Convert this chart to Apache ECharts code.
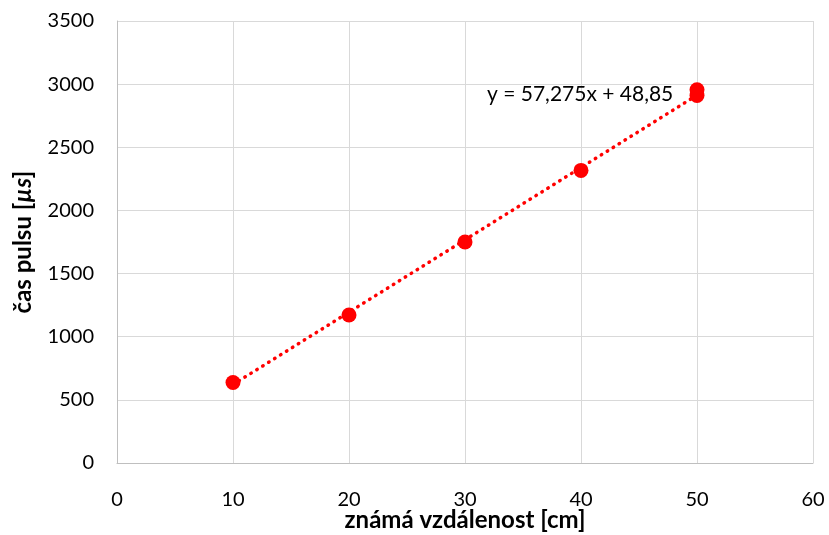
<!DOCTYPE html>
<html>
<head>
<meta charset="utf-8">
<script src="https://cdn.jsdelivr.net/npm/echarts@6/dist/echarts.min.js"></script>
<style>html,body{margin:0;padding:0;background:#fff}#c{width:829px;height:535px}</style>
</head>
<body>
<div id="c"></div>
<script>
const xValues = [10, 20, 30, 40, 50, 50];
const yValues = [638, 1172, 1750, 2317, 2910, 2955];
const trendSlope = 57.275;
const trendIntercept = 48.85;
const trendLabel = 'y = 57,275x + 48,85';
const xTitle = 'známá vzdálenost [cm]';
const yTitleMain = 'čas pulsu [';
const yTitleUnit = 'µs';
const yTitleEnd = ']';

const points = xValues.map((x, i) => [x, yValues[i]]);
const xMin = Math.min(...xValues), xMax = Math.max(...xValues);
const trend = [[xMin, trendSlope * xMin + trendIntercept], [xMax, trendSlope * xMax + trendIntercept]];

const font = 'Lato, "Open Sans", sans-serif';
const chart = echarts.init(document.getElementById('c'), null, {renderer: 'canvas'});
chart.setOption({
  animation: false,
  backgroundColor: '#ffffff',
  grid: {left: 117, right: 16, top: 21, bottom: 72, containLabel: false, outerBoundsMode: 'none'},
  xAxis: {
    type: 'value', min: 0, max: 60, interval: 10,
    axisLine: {show: true, lineStyle: {color: '#bfbfbf', width: 1}},
    axisTick: {show: false},
    splitLine: {show: true, lineStyle: {color: '#d9d9d9', width: 1}},
    axisLabel: {color: '#000', fontSize: 20, fontFamily: font, margin: 27},
    name: xTitle, nameLocation: 'middle', nameGap: 45, nameMoveOverlap: false,
    nameTextStyle: {color: '#000', fontSize: 24, fontWeight: 'bold', fontFamily: font}
  },
  yAxis: {
    type: 'value', min: 0, max: 3500, interval: 500,
    axisLine: {show: true, lineStyle: {color: '#bfbfbf', width: 1}},
    axisTick: {show: false},
    splitLine: {show: true, lineStyle: {color: '#d9d9d9', width: 1}},
    axisLabel: {color: '#000', fontSize: 20, fontFamily: font, margin: 23, formatter: v => String(v)},
    name: '{b|' + yTitleMain + '}{i|' + yTitleUnit + '}{b|' + yTitleEnd + '}',
    nameLocation: 'middle', nameGap: 82, nameRotate: 90,
    nameTextStyle: {
      color: '#000', fontSize: 24, fontWeight: 'bold', fontFamily: font,
      rich: {
        b: {color: '#000', fontSize: 24, fontWeight: 'bold', fontFamily: font},
        i: {color: '#000', fontSize: 24, fontWeight: 'bold', fontStyle: 'italic', fontFamily: font}
      }
    }
  },
  series: [
    {
      type: 'line', data: trend, symbol: 'none', silent: true, z: 1,
      lineStyle: {color: '#ff0000', width: 3.5, type: [0.5, 6.5], cap: 'round'}
    },
    {
      type: 'scatter', data: points, symbol: 'circle', symbolSize: 15, z: 2,
      itemStyle: {color: '#ff0000', opacity: 1}
    }
  ],
  graphic: [
    {type: 'text', left: 487, top: 84, z: 100, style: {text: trendLabel, fill: '#000', font: '21px ' + font}}
  ]
});
</script>
</body>
</html>
